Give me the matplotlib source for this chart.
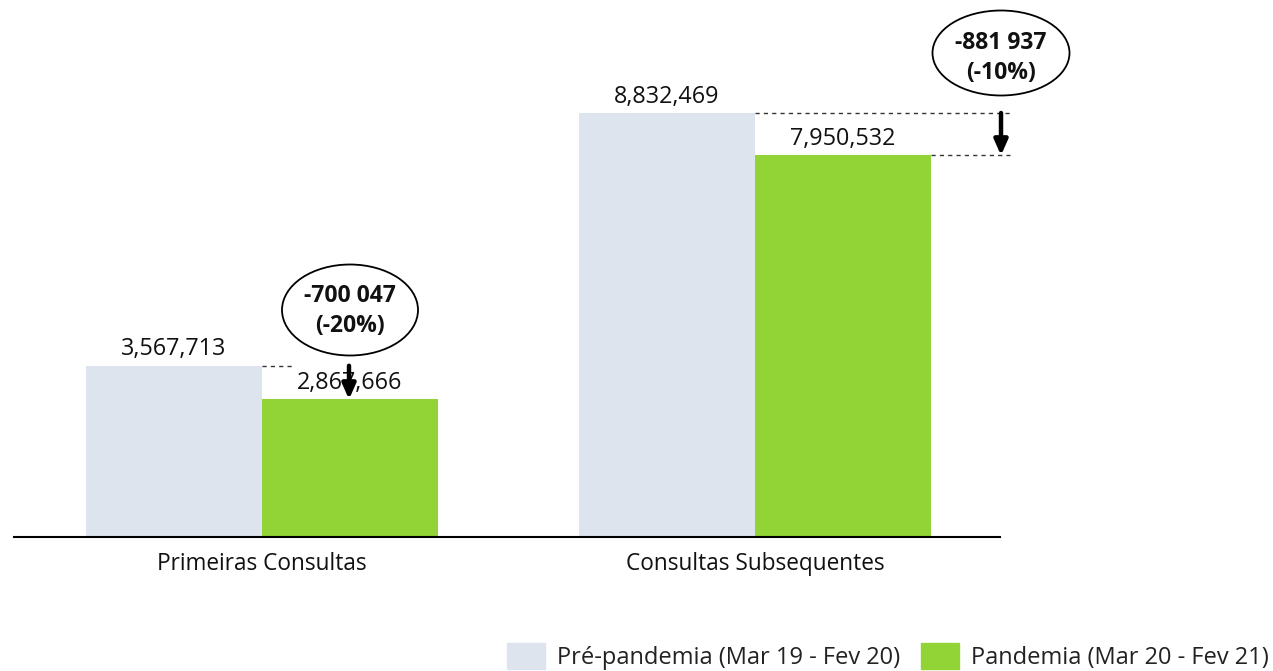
import matplotlib
matplotlib.use("Agg")
import matplotlib.pyplot as plt
from matplotlib.patches import Ellipse, Patch
import numpy as np

categories = ["Primeiras Consultas", "Consultas Subsequentes"]
pre = [3567713, 8832469]
pand = [2867666, 7950532]
series_labels = ["Pré-pandemia (Mar 19 - Fev 20)", "Pandemia (Mar 20 - Fev 21)"]
c_pre = "#DEE4EE"
c_pand = "#92D336"

plt.rcParams['font.family'] = ['Open Sans', 'DejaVu Sans']

W, H = 1273, 671
fig = plt.figure(figsize=(W/100, H/100), dpi=100)
ax = fig.add_axes([14/W, (H-537)/H, 986/W, 517/H])
bw = 0.357
x = np.arange(len(categories))
ax.bar(x - bw/2, pre, bw, color=c_pre)
ax.bar(x + bw/2, pand, bw, color=c_pand)
ax.set_xlim(-0.503, 1.497)
ymax = 517 / (424 / pre[1])
ax.set_ylim(0, ymax)
for s in ["top", "right", "left"]:
    ax.spines[s].set_visible(False)
ax.spines["bottom"].set_linewidth(1.5)
ax.set_yticks([])
ax.set_xticks(x)
ax.set_xticklabels(categories, fontsize=16.3, color='#111111')
ax.tick_params(axis='x', length=0, pad=11)

for i in range(2):
    ax.annotate(f"{pre[i]:,}", (x[i] - bw/2, pre[i]), xytext=(0, 7.5), textcoords='offset points',
                ha='center', va='baseline', fontsize=16.8, color='#111111')
    ax.annotate(f"{pand[i]:,}", (x[i] + bw/2, pand[i]), xytext=(0, 7.5), textcoords='offset points',
                ha='center', va='baseline', fontsize=16.8, color='#111111')

def px2x(p):
    return -0.503 + (p - 14) / 493

arrow_style = dict(arrowstyle='-|>,head_width=0.4,head_length=0.9', color='black', lw=3.2,
                   shrinkA=0, shrinkB=0)
# group 1 annotation
ax.plot([x[0], px2x(292)], [pre[0], pre[0]], ls=(0, (3, 3)), color='#333333', lw=1)
ax.annotate("", xy=(px2x(349), pand[0]), xytext=(px2x(349), pre[0]), arrowprops=arrow_style)
# group 2 annotation
ax.plot([x[1], px2x(1010)], [pre[1], pre[1]], ls=(0, (3, 3)), color='#333333', lw=1, clip_on=False)
ax.plot([x[1] + bw, px2x(1010)], [pand[1], pand[1]], ls=(0, (3, 3)), color='#333333', lw=1, clip_on=False)
ax.annotate("", xy=(px2x(1001), pand[1]), xytext=(px2x(1001), pre[1]), arrowprops=arrow_style,
            annotation_clip=False)

ells = [(350, 310, 136, 91, 311), (1001, 53, 137, 85, 58)]
for i, (cx, cy, ew, eh, ty) in enumerate(ells):
    e = Ellipse((cx, H - cy), ew, eh, transform=None, facecolor='white', edgecolor='black', lw=1.3)
    fig.add_artist(e)
    diff = pand[i] - pre[i]
    pct = round(diff / pre[i] * 100)
    txt = f"{diff:,}".replace(",", " ") + f"\n({pct}%)"
    fig.text(cx / W, (H - ty) / H, txt, ha='center', va='center', fontsize=16.5,
             fontweight='bold', linespacing=1.3, color='#111111')

handles = [Patch(color=c_pre), Patch(color=c_pand)]
fig.legend(handles, series_labels, loc='lower left', bbox_to_anchor=(507/W, 1/H),
           ncol=2, frameon=False, fontsize=17, handlelength=1.6, handleheight=1.3,
           columnspacing=0.9, handletextpad=0.5, borderpad=0.0, borderaxespad=0.0,
           labelcolor='#222222')

fig.savefig("out.png", dpi=100)
